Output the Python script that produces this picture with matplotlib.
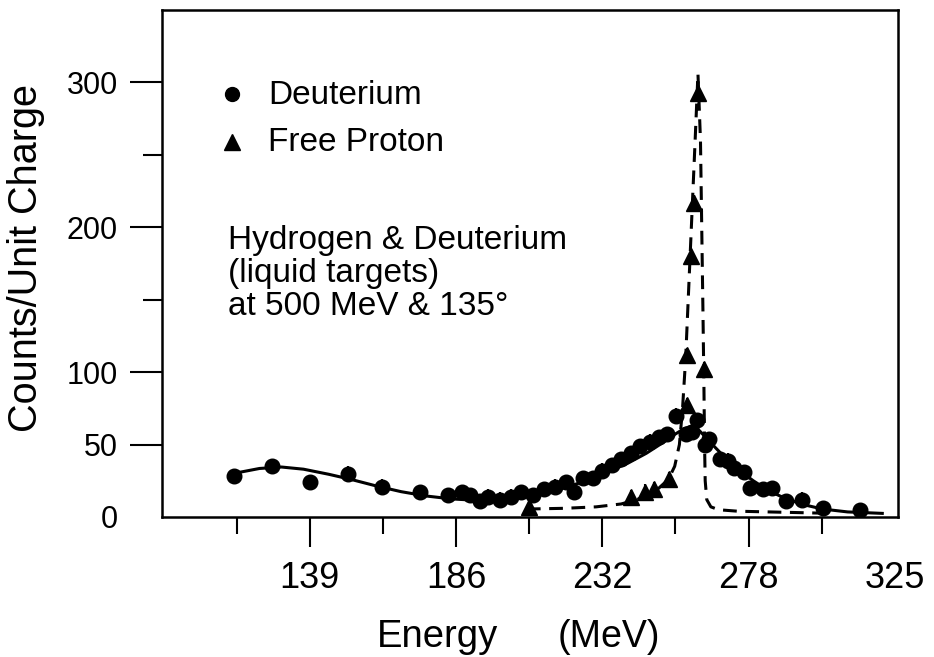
import matplotlib
matplotlib.use("Agg")
import matplotlib.pyplot as plt

plt.rcParams['font.family'] = ['Liberation Sans', 'DejaVu Sans']

# ---- data ----
deut_E = [115, 127, 139, 151, 162, 174, 183, 187.5, 190, 193, 195.5, 199.5, 203, 206, 210,
          213.5, 217, 220.5, 223, 226, 229, 232, 235, 238, 241, 244, 247, 250, 252.5,
          255.5, 258.5, 260.5, 262, 264.5, 266, 269.5, 272, 274, 277, 279, 283, 286,
          290.5, 295.5, 302, 314]
deut_C = [28, 35, 24, 30, 21, 17, 15, 17, 15, 11, 14, 12, 14, 17, 15,
          19, 21, 24, 17, 27, 27, 32, 36, 40, 44, 49, 52, 55, 57,
          70, 57, 59, 67, 50, 54, 40, 39, 34, 31, 20, 19, 20,
          11, 12, 6, 5]
deut_err = 5

prot_E = [208.7, 241, 245.7, 248.4, 253.1, 258.9, 258.9, 260.3, 261, 262.4, 264.2]
prot_C = [7, 13.5, 17.5, 19.5, 26, 77, 112, 180, 217, 293, 102]
prot_err = 5

fit_deut_E = [117, 123, 130, 137, 145, 152, 160, 168, 176, 184, 192, 200, 208, 216, 224,
              232, 240, 246, 251, 255, 258, 260, 262, 264, 267, 271, 275, 280, 285, 290,
              296, 302, 310, 321]
fit_deut_C = [31, 33.5, 34.5, 33, 29.5, 26, 21.5, 17.5, 14.5, 12.5, 11.5, 12, 14, 17.5, 23,
              29.5, 37, 44, 51, 57, 61, 62.5, 61.5, 57, 50, 41, 33, 25, 18, 13,
              8.5, 5.5, 3.5, 2.5]

fit_prot_E = [208, 220, 230, 238, 243, 247, 250, 253, 255, 256.5, 257.5, 258.5, 259.5,
              260.5, 261.5, 262.4, 263.2, 263.6, 264.0, 264.3, 264.5, 264.7, 265.2, 266.5,
              269, 275, 285, 295, 305]
fit_prot_C = [5.5, 6, 7, 9, 12, 16, 20, 26, 35, 50, 75, 110, 160,
              210, 260, 306, 260, 200, 140, 90, 50, 25, 12, 7,
              5, 4, 3.5, 3, 2.5]

x_major = [139, 185.5, 232, 278.5, 325]
x_major_labels = ['139', '186', '232', '278', '325']
x_minor = [115.75, 162.25, 208.75, 255.25, 301.75]
y_major = [0, 50, 100, 200, 300]
y_major_labels = ['0', '50', '100', '200', '300']
y_minor = [150, 250]

# ---- figure ----
W, H = 934, 657
fig = plt.figure(figsize=(W / 100, H / 100), dpi=100)
L, R, T, B = 162, 898, 10, 517
ax = fig.add_axes([L / W, (H - B) / H, (R - L) / W, (B - T) / H])

ax.plot(fit_deut_E, fit_deut_C, color='black', lw=2.2, solid_joinstyle='round')
ax.plot(fit_prot_E, fit_prot_C, color='black', lw=2.2, ls=(0, (4.5, 2.8)))

ax.errorbar(deut_E, deut_C, yerr=deut_err, fmt='o', color='black', ms=10.5,
            elinewidth=1.5, capsize=0)
ax.errorbar(prot_E, prot_C, yerr=prot_err, fmt='^', color='black', ms=11,
            elinewidth=1.5, capsize=0)

ax.set_xlim(92, 326)
ax.set_ylim(0, 350)

ax.set_xticks(x_major)
ax.set_xticklabels(x_major_labels)
ax.set_xticks(x_minor, minor=True)
ax.set_yticks(y_major)
ax.set_yticklabels(y_major_labels)
ax.set_yticks(y_minor, minor=True)

ax.tick_params(axis='x', which='major', length=21.6, width=1.5, pad=10, labelsize=26)
ax.tick_params(axis='x', which='minor', length=12.2, width=1.5)
ax.tick_params(axis='y', which='major', length=23, width=1.5, pad=8.6, labelsize=22)
ax.tick_params(axis='y', which='minor', length=13.7, width=1.5)
ax.xaxis.get_major_ticks()[-1].tick1line.set_visible(False)
ax.yaxis.get_major_ticks()[0].tick1line.set_visible(False)

for s in ax.spines.values():
    s.set_linewidth(1.8)


def axf(px, py):
    return ((px - L) / (R - L), (B - py) / (B - T))


# legend
ax.plot(*axf(232, 94), 'o', color='black', ms=10, transform=ax.transAxes, clip_on=False)
ax.plot(*axf(232, 142), '^', color='black', ms=11, transform=ax.transAxes, clip_on=False)
ax.text(*axf(268, 104), 'Deuterium', transform=ax.transAxes, fontsize=24, va='baseline')
ax.text(*axf(268, 151), 'Free Proton', transform=ax.transAxes, fontsize=24, va='baseline')

ax.text(*axf(228, 249), 'Hydrogen & Deuterium', transform=ax.transAxes, fontsize=24, va='baseline')
ax.text(*axf(228, 282), '(liquid targets)', transform=ax.transAxes, fontsize=24, va='baseline')
ax.text(*axf(228, 315), 'at 500 MeV & 135°', transform=ax.transAxes, fontsize=24, va='baseline')

# axis labels
fig.text(377 / W, (H - 647) / H, 'Energy', fontsize=27.5, va='baseline', ha='left')
fig.text(558 / W, (H - 647) / H, '(MeV)', fontsize=27, va='baseline', ha='left')
fig.text(26 / W, (H - 258) / H, 'Counts/Unit Charge', fontsize=28.5, rotation=90,
         ha='center', va='center')

fig.savefig('out.png', dpi=100)
